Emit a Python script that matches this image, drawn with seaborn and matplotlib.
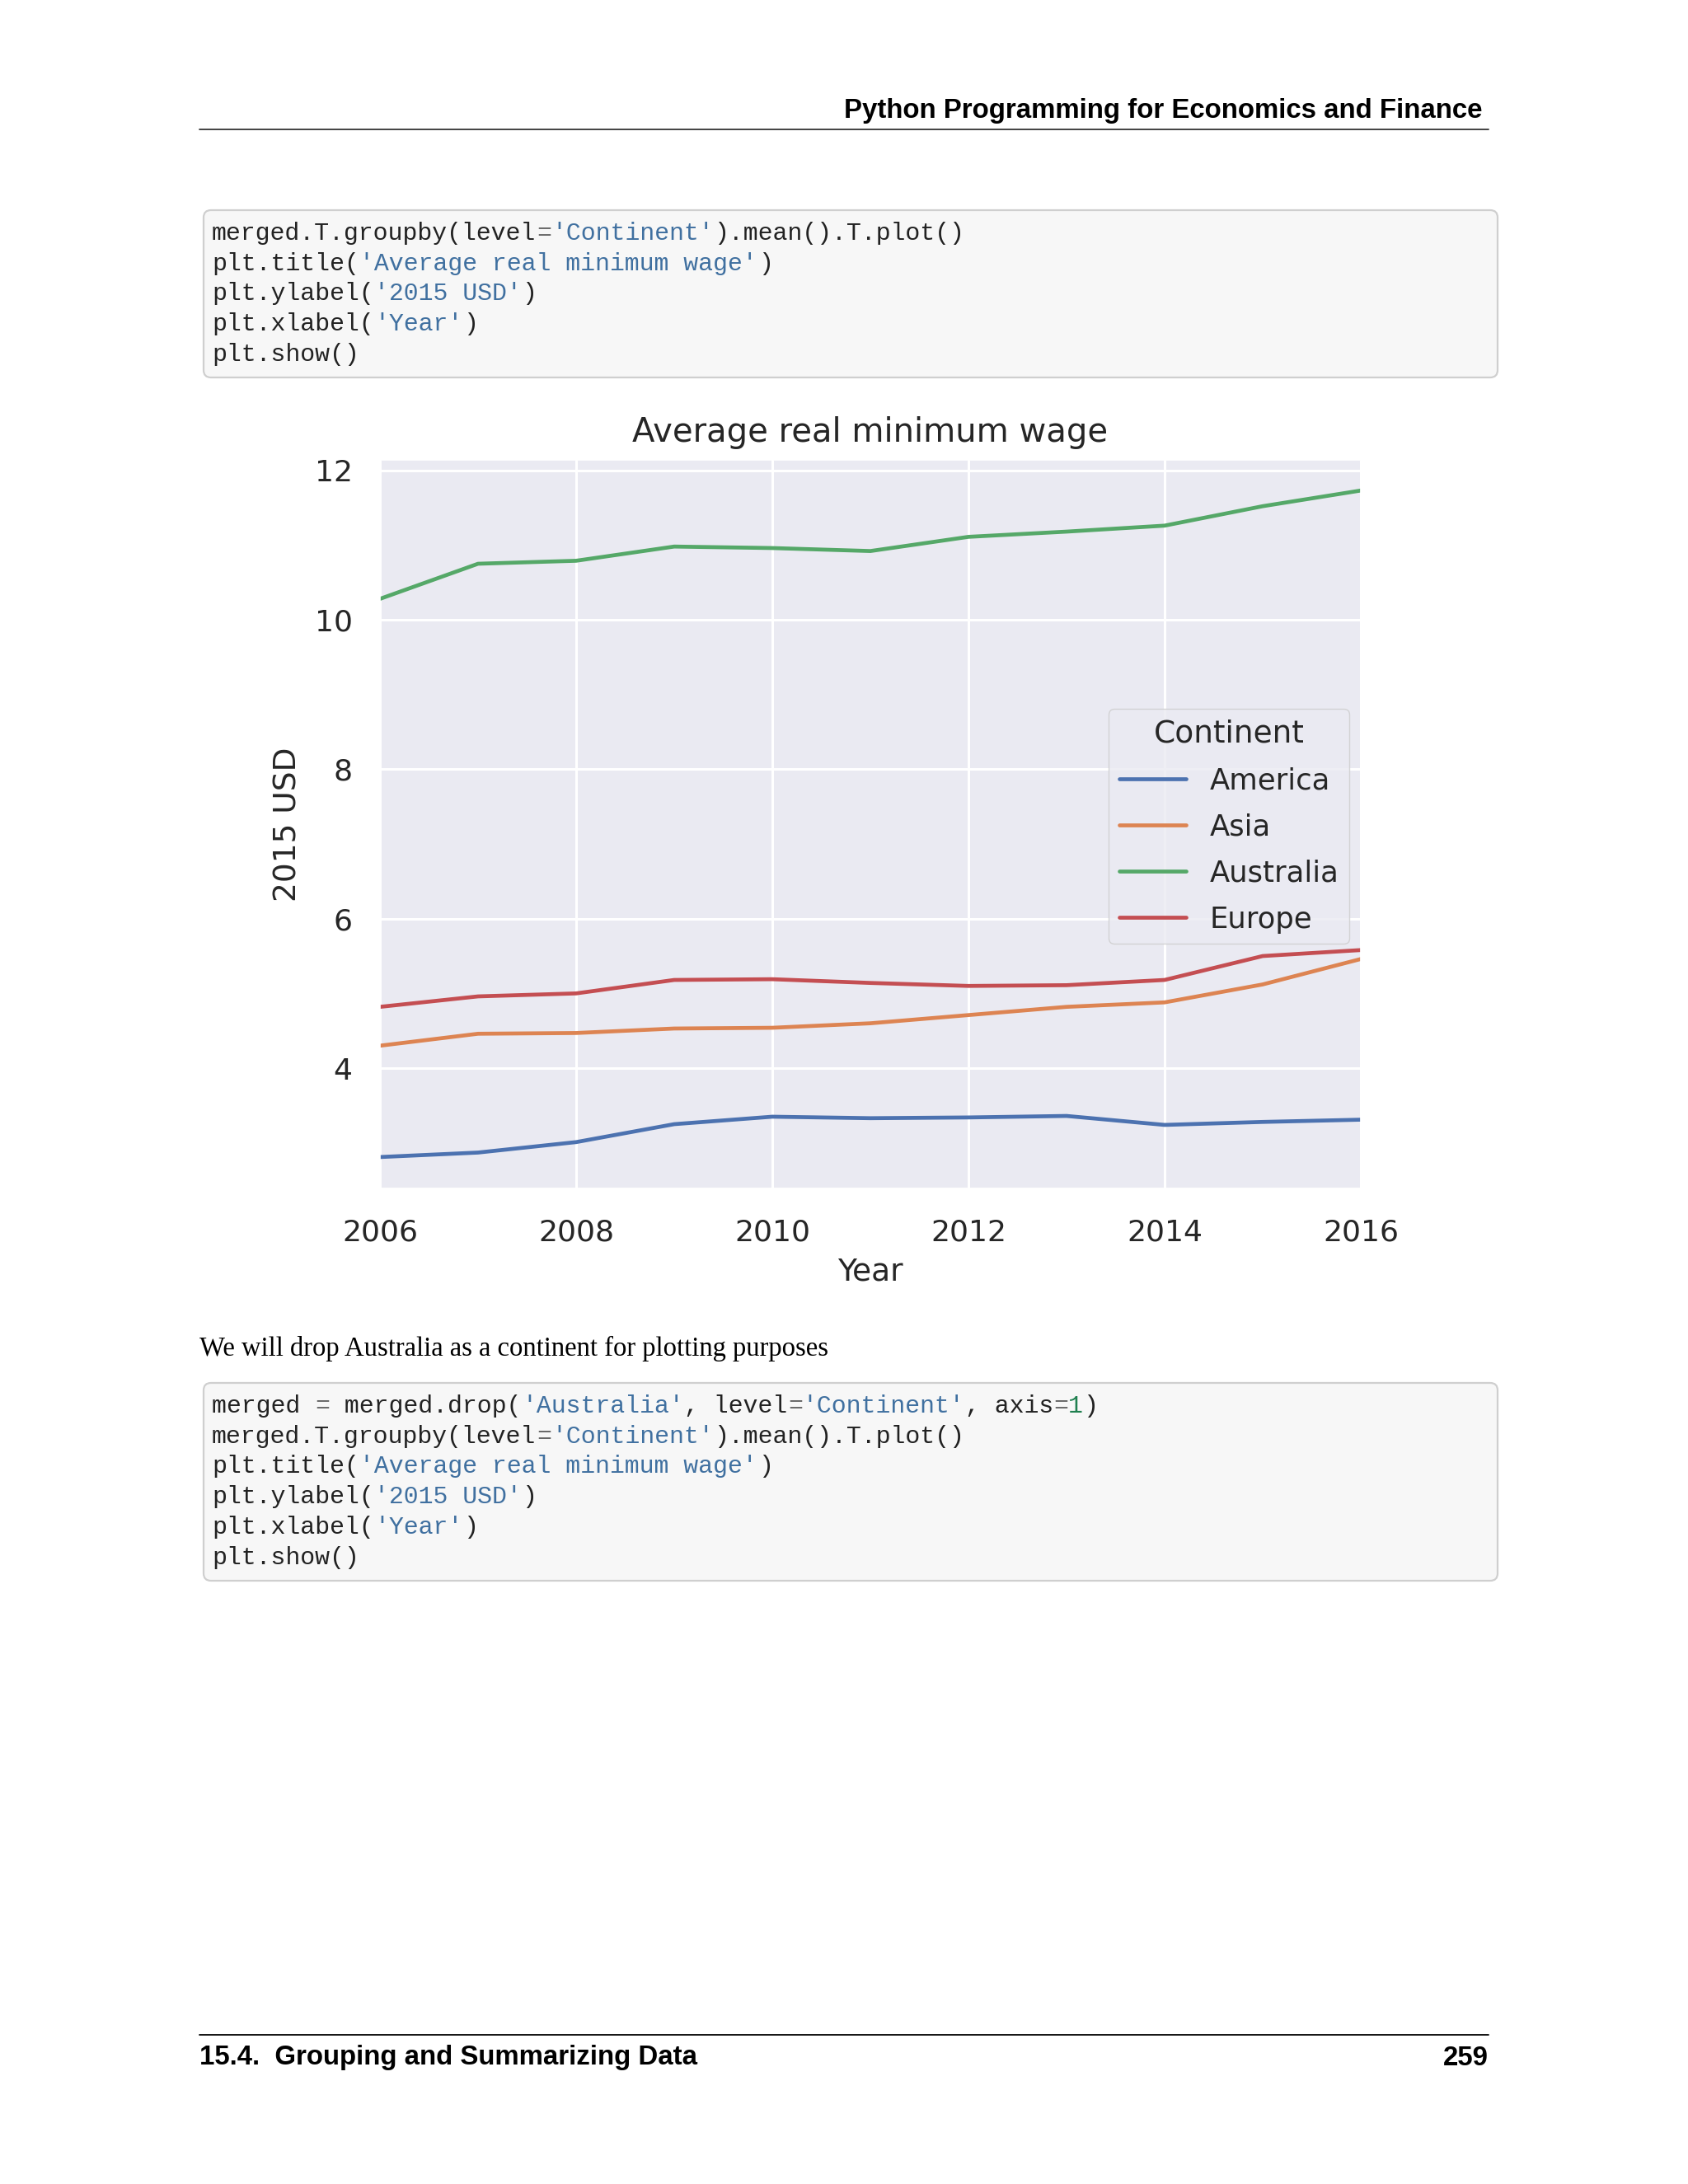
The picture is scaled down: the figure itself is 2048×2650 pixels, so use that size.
import pandas as pd
import matplotlib.pyplot as plt
import seaborn as sns
from matplotlib.patches import FancyBboxPatch

# Average real minimum wage (2015 USD)
years = [2006, 2007, 2008, 2009, 2010, 2011, 2012, 2013, 2014, 2015, 2016]
america = [2.81, 2.87, 3.01, 3.25, 3.35, 3.33, 3.34, 3.36, 3.24, 3.28, 3.31]
asia = [4.30, 4.46, 4.47, 4.53, 4.54, 4.60, 4.71, 4.82, 4.88, 5.12, 5.46]
australia = [10.28, 10.75, 10.79, 10.98, 10.96, 10.92, 11.11, 11.18, 11.26, 11.52, 11.73]
europe = [4.82, 4.96, 5.00, 5.18, 5.19, 5.14, 5.10, 5.11, 5.18, 5.50, 5.58]
continents = ['America', 'Asia', 'Australia', 'Europe']
x_ticks = [2006, 2008, 2010, 2012, 2014, 2016]
y_ticks = [4, 6, 8, 10, 12]

df = pd.DataFrame({'Year': years, 'America': america, 'Asia': asia,
                   'Australia': australia, 'Europe': europe})
long_df = df.melt(id_vars='Year', var_name='Continent', value_name='wage')

sns.set_theme(style='darkgrid', rc={'grid.linewidth': 2.2})

W, H = 2048, 2650
fig = plt.figure(figsize=(W / 100, H / 100), dpi=100)

# page layer in pixel coordinates
pg = fig.add_axes([0, 0, 1, 1], zorder=0)
pg.set_xlim(0, W)
pg.set_ylim(H, 0)
pg.axis('off')

sans = 'Liberation Sans'
mono = 'Liberation Mono'
serif = 'Liberation Serif'
txt_col = '#222222'
str_col = '#4070a0'
op_col = '#666666'
num_col = '#208050'

# header / footer
pg.text(1798, 135, 'Python Programming for Economics and Finance', ha='right', va='center',
        fontsize=23.8, fontweight='bold', family=sans, color='black')
pg.plot([242, 1806], [157, 157], color='#333333', lw=1.3)
pg.plot([242, 1806], [2469, 2469], color='black', lw=1.3)
pg.text(242, 2497, '15.4.  Grouping and Summarizing Data', ha='left', va='center',
        fontsize=23.8, fontweight='bold', family=sans, color='black')
pg.text(1806, 2497, '259', ha='right', va='center',
        fontsize=23.8, fontweight='bold', family=sans, color='black')


def code_block(y0, y1, lines, first_y, step):
    box = FancyBboxPatch((247, y0), 1817 - 247, y1 - y0,
                         boxstyle='round,pad=0,rounding_size=9',
                         facecolor='#f7f7f7', edgecolor='#cfcfcf', lw=1.6)
    pg.add_patch(box)
    cw = 17.92
    for i, segs in enumerate(lines):
        col = 0
        for s, c in segs:
            pg.text(257 + col * cw, first_y + i * step, s, ha='left', va='center',
                    fontsize=21.5, family=mono, color=c)
            col += len(s)


plot_line = [('merged.T.groupby(level', txt_col), ('=', op_col), ("'Continent'", str_col),
             (').mean().T.plot()', txt_col)]
tail = [
    [('plt.title(', txt_col), ("'Average real minimum wage'", str_col), (')', txt_col)],
    [('plt.ylabel(', txt_col), ("'2015 USD'", str_col), (')', txt_col)],
    [('plt.xlabel(', txt_col), ("'Year'", str_col), (')', txt_col)],
    [('plt.show()', txt_col)],
]
code_block(255, 458, [plot_line] + tail, 283, 36.7)

drop_line = [('merged ', txt_col), ('=', op_col), (' merged.drop(', txt_col),
             ("'Australia'", str_col), (', level', txt_col), ('=', op_col),
             ("'Continent'", str_col), (', axis', txt_col), ('=', op_col),
             ('1', num_col), (')', txt_col)]
code_block(1678, 1918, [drop_line, plot_line] + tail, 1706, 36.7)

pg.text(242, 1636, 'We will drop Australia as a continent for plotting purposes',
        ha='left', va='center', fontsize=23.5, family=serif, color='black')

# the chart
ax = fig.add_axes([461 / W, 1 - 1442 / H, 1190 / W, 884 / H], zorder=1)
sns.lineplot(data=long_df, x='Year', y='wage', hue='Continent', hue_order=continents,
             palette='deep', linewidth=3.4, ax=ax)
ax.set_xlim(2006, 2016)
ax.set_ylim(2.39, 12.14)
ax.set_xticks(x_ticks)
ax.set_yticks(y_ticks)
ax.tick_params(axis='both', labelsize=26, colors='#262626')
ax.tick_params(axis='x', pad=20)
ax.tick_params(axis='y', pad=18)
ax.set_title('Average real minimum wage', fontsize=28.9, pad=16, color='#262626')
ax.set_xlabel('Year', fontsize=27, labelpad=10, color='#262626')
ax.set_ylabel('2015 USD', fontsize=27, labelpad=10, color='#262626')
leg = ax.legend(title='Continent', loc='upper right', bbox_to_anchor=(0.988, 0.658),
                borderaxespad=0, fontsize=25.5, title_fontsize=27,
                labelspacing=0.62, handlelength=2.3, borderpad=0.35)
for line in leg.get_lines():
    line.set_linewidth(3.4)

fig.savefig('out.png', dpi=100)
